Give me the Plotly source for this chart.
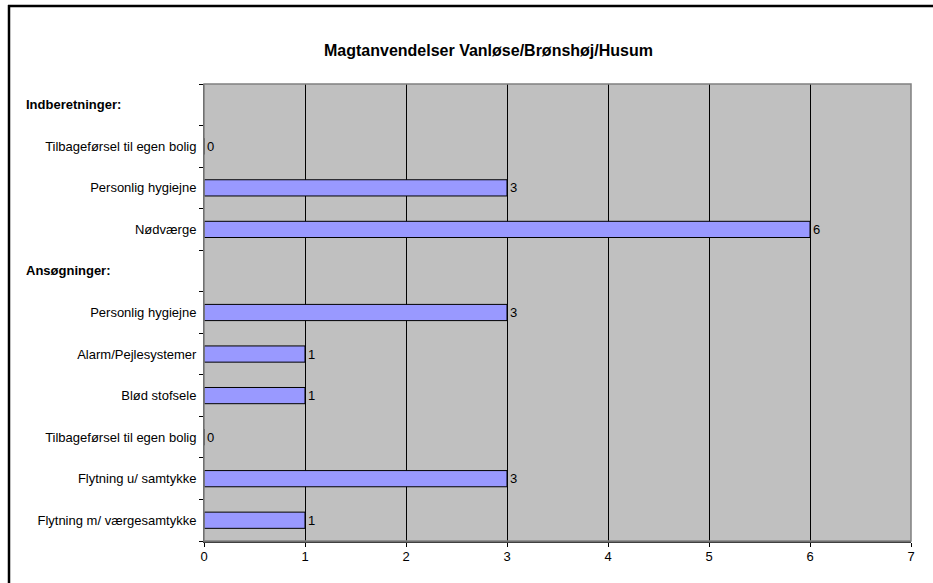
import plotly.graph_objects as go

# Rows from top to bottom; section headers carry no value
labels = [
    "Indberetninger:",
    "Tilbageførsel til egen bolig",
    "Personlig hygiejne",
    "Nødværge",
    "Ansøgninger:",
    "Personlig hygiejne",
    "Alarm/Pejlesystemer",
    "Blød stofsele",
    "Tilbageførsel til egen bolig",
    "Flytning u/ samtykke",
    "Flytning m/ værgesamtykke",
]
values = [None, 0, 3, 6, None, 3, 1, 1, 0, 3, 1]
is_header = [True, False, False, False, True, False, False, False, False, False, False]
x_ticks = [0, 1, 2, 3, 4, 5, 6, 7]
title = "Magtanvendelser Vanløse/Brønshøj/Husum"

FONT = "Arial, Liberation Sans, sans-serif"
W, H = 933, 583
ML, MR, MT, MB = 204, 22, 84, 42
PW, PH = W - ML - MR, H - MT - MB

n = len(labels)
ypos = list(range(n))  # row index, reversed axis puts row 0 on top

bar_y = [y for y, v in zip(ypos, values) if v is not None]
bar_x = [v for v in values if v is not None]

fig = go.Figure()
fig.add_trace(go.Bar(
    x=bar_x, y=bar_y, orientation="h",
    width=0.39,
    marker=dict(color="#9999FF", line=dict(color="black", width=1)),
    text=[str(v) for v in bar_x], textposition="outside",
    textfont=dict(family=FONT, size=13, color="black"),
    cliponaxis=False,
    hoverinfo="skip",
))


def px_x(px):
    return (px - ML) / PW


def px_y(py):
    return (H - MB - py) / PH


annotations = [
    dict(text=f"<b>{title}</b>", x=px_x(488), y=px_y(51), xref="paper", yref="paper",
         showarrow=False, font=dict(family=FONT, size=16, color="black"),
         xanchor="center", yanchor="middle"),
]
for y, lab, hdr in zip(ypos, labels, is_header):
    if hdr:
        annotations.append(dict(
            text=f"<b>{lab}</b>", x=px_x(24), y=y, xref="paper", yref="y",
            showarrow=False, xanchor="left", yanchor="middle",
            font=dict(family=FONT, size=13, color="black")))

shapes = [
    # outer chart frame: only its left and top edges fall on the page
    dict(type="line", xref="paper", yref="paper",
         x0=px_x(9), x1=px_x(9), y0=px_y(583), y1=px_y(5),
         line=dict(color="black", width=2.5), layer="below"),
    dict(type="line", xref="paper", yref="paper",
         x0=px_x(8), x1=px_x(933), y0=px_y(6), y1=px_y(6),
         line=dict(color="black", width=2.5), layer="below"),
    # plot area border
    dict(type="rect", xref="paper", yref="paper", x0=0, x1=1, y0=0, y1=1,
         line=dict(color="#808080", width=1.5), layer="above"),
]

fig.update_layout(
    width=W, height=H,
    margin=dict(l=ML, r=MR, t=MT, b=MB),
    paper_bgcolor="white", plot_bgcolor="#C0C0C0",
    showlegend=False,
    annotations=annotations, shapes=shapes,
    xaxis=dict(
        range=[0, 7], tickvals=x_ticks, ticktext=[str(t) for t in x_ticks],
        showgrid=True, gridcolor="black", gridwidth=1,
        zeroline=False,
        showline=True, linecolor="#404040", linewidth=2,
        ticks="outside", ticklen=4, tickcolor="black", tickwidth=1,
        ticklabelstandoff=-2,
        tickfont=dict(family=FONT, size=13, color="black"),
        fixedrange=True,
    ),
    yaxis=dict(
        range=[n - 0.5, -0.5],
        tickvals=[y for y, h in zip(ypos, is_header) if not h],
        ticktext=[l for l, h in zip(labels, is_header) if not h],
        ticks="", showgrid=False, zeroline=False,
        showline=True, linecolor="#404040", linewidth=1,
        ticklabelstandoff=4,
        tickfont=dict(family=FONT, size=13, color="black"),
        minor=dict(tick0=0.5, dtick=1, ticks="outside", ticklen=4,
                   tickcolor="black", tickwidth=1, showgrid=False),
        fixedrange=True,
    ),
    bargap=0.6,
)

fig.write_html("out.html", config={"displayModeBar": False})
